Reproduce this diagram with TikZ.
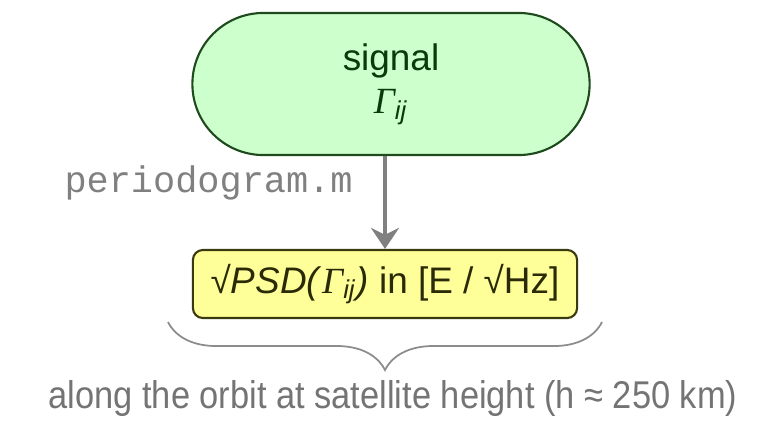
\documentclass[tikz,border=0pt]{standalone}
\usepackage{fontspec}
\setmainfont{Liberation Sans}
\setmonofont{Liberation Mono}
\newfontfamily\greekserif{Liberation Serif}
\newfontfamily\narrowsans[FakeStretch=0.89]{Liberation Sans}
\usepackage{xcolor}
\usetikzlibrary{arrows.meta,decorations.pathreplacing}
\definecolor{signalfill}{HTML}{CCFFCC}
\definecolor{signaldraw}{HTML}{1E4A1E}
\definecolor{signaltext}{HTML}{0A3A0A}
\definecolor{psdfill}{HTML}{FFFF99}
\definecolor{psddraw}{HTML}{3A3A10}
\definecolor{psdtext}{HTML}{2A2A08}
\definecolor{flowgray}{HTML}{808080}
\definecolor{bracegray}{HTML}{8C8C8C}
\definecolor{notegray}{HTML}{747474}
\newcommand{\Gij}{{\greekserif\itshape Γ}\textsubscript{\itshape ij}}

\begin{document}
\begin{tikzpicture}[x=0.01cm, y=-0.01cm,
  signalbox/.style={draw=signaldraw, fill=signalfill, text=signaltext, line width=0.6pt,
    rounded corners=0.71cm, minimum width=3.97cm, minimum height=1.42cm, align=center,
    font=\fontsize{10.5}{12.4}\selectfont},
  psdbox/.style={draw=psddraw, fill=psdfill, text=psdtext, line width=0.6pt,
    rounded corners=0.1cm, minimum width=3.84cm, minimum height=0.68cm,
    font=\fontsize{10.5}{12.6}\selectfont},
  flowarrow/.style={draw=flowgray, line width=1.4pt, -{Stealth[length=6pt,width=8pt,inset=2pt]}},
  codelabel/.style={text=flowgray, font=\ttfamily\fontsize{10.5}{12.6}\selectfont},
  orbitbrace/.style={draw=bracegray, line width=0.5pt,
    decorate, decoration={brace, mirror, amplitude=0.48cm}},
  notelabel/.style={text=notegray, font=\narrowsans\fontsize{11}{13}\selectfont}]
\useasboundingbox (0,0) rectangle (761,421);
%%%%% Boxes %%%%%
\node[signalbox] (signal) at (391,84) {signal\\\Gij};
\node[psdbox] (psd) at (385,284) {√\textit{PSD(}\Gij\textit{)} in [E / √Hz]};
%%%%% Flow %%%%%
\draw[flowarrow] (signal.south -| psd.north) -- (psd.north);
\node[codelabel, anchor=east] (script) at (365,183) {periodogram.m};
%%%%% Brace %%%%%
\coordinate (braceL) at (168,322);
\coordinate (braceR) at (602,322);
\draw[orbitbrace] (braceL) -- (braceR);
\node[notelabel] (orbit) at (393,398) {along the orbit at satellite height (h ≈ 250 km)};
\end{tikzpicture}
\end{document}
